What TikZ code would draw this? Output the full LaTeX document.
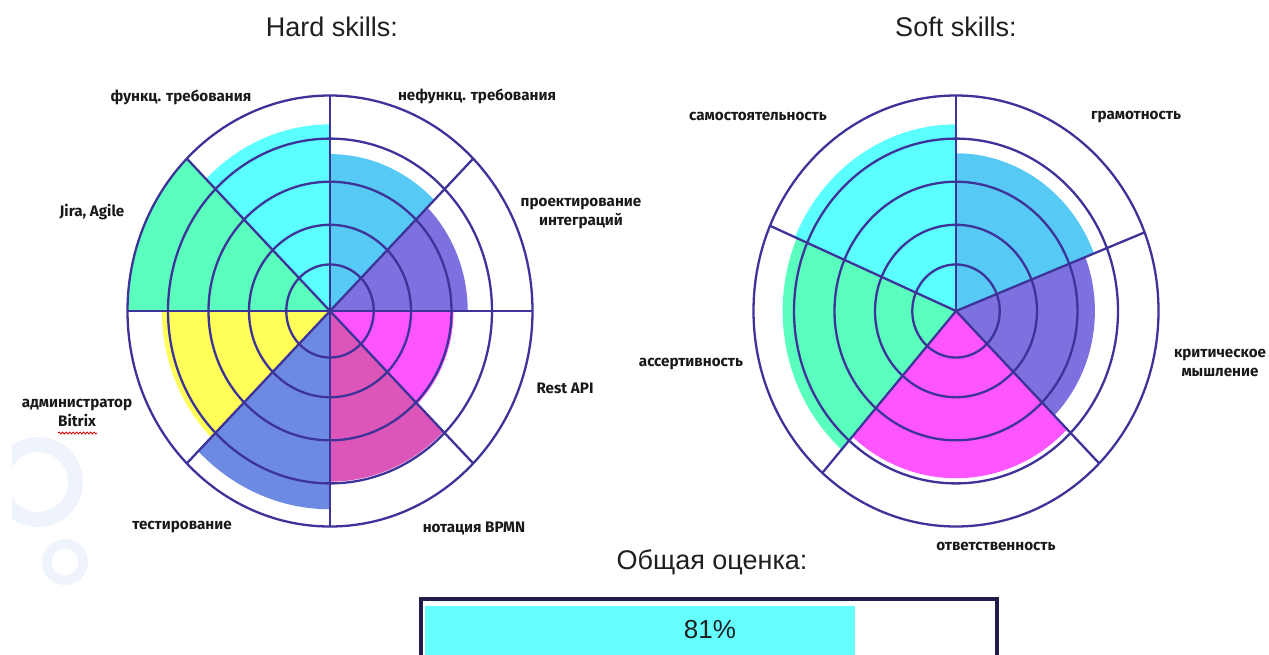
\documentclass[tikz,border=0pt]{standalone}
\usepackage{fontspec}
\setmainfont{Fira Sans}
\newfontfamily\headfont{Liberation Sans}
\usetikzlibrary{decorations.pathmorphing}

\definecolor{gridline}{HTML}{3D3399}
\definecolor{skillAqua}{HTML}{5BFFFF}
\definecolor{skillSky}{HTML}{56C9F4}
\definecolor{skillViolet}{HTML}{7D70DF}
\definecolor{skillPink}{HTML}{FF55FF}
\definecolor{skillOrchid}{HTML}{DC56B9}
\definecolor{skillBlue}{HTML}{6C8AE2}
\definecolor{skillLemon}{HTML}{FFFF57}
\definecolor{skillMint}{HTML}{5BFFBD}
\definecolor{decor}{HTML}{EEF3FC}
\definecolor{barframe}{HTML}{211D4B}
\definecolor{barfill}{HTML}{66FFFF}

\begin{document}
\begin{tikzpicture}[x=1pt, y=1pt,
    grid/.style={draw=gridline, line width=2.3pt},
    head/.style={font=\headfont\fontsize{27}{30}\selectfont, text=black!88, inner sep=0pt},
    lbl/.style={font=\bfseries\fontsize{15.2}{19}\selectfont, align=center, text=black!90, inner sep=0pt}]
    \useasboundingbox (0,0) rectangle (1269,-654);

    \begin{scope}
        \clip (12,0) rectangle (1269,-654);
        \fill[decor, even odd rule] (38,-482) circle[radius=45] circle[radius=30];
    \end{scope}
    \fill[decor, even odd rule] (65,-562) circle[radius=23] circle[radius=13.5];

    \node[head] (hard) at (332,-27) {Hard skills:};
    \node[head] (soft) at (956,-27) {Soft skills:};

    \begin{scope}[shift={(330,-311)}, x=40.5pt, y=43.1pt]
        \foreach \a/\b/\r/\c in {45/90/3.64/skillSky, 0/45/3.4/skillViolet, -45/0/3.05/skillPink, -90/-45/3.96/skillOrchid,
                                 -135/-90/4.6/skillBlue, -180/-135/4.15/skillLemon, 135/180/5/skillMint, 90/135/4.33/skillAqua} {
            \fill[\c] (0,0) -- (\a:\r) arc[start angle=\a, end angle=\b, radius=\r] -- cycle;
        }
        \foreach \r in {1.08,2,3,4,5} {
            \draw[grid] (0,0) circle[radius=\r];
        }
        \foreach \a in {0,45,...,315} {
            \draw[grid] (0,0) -- (\a:5);
        }
    \end{scope}

    \begin{scope}[shift={(956,-311)}, x=40.5pt, y=43.1pt]
        \foreach \a/\b/\r/\c in {21.4/90/3.66/skillSky, -45/21.4/3.43/skillViolet, -131.3/-45/3.88/skillPink,
                                 -203.3/-131.3/4.28/skillMint, 90/156.7/4.33/skillAqua} {
            \fill[\c] (0,0) -- (\a:\r) arc[start angle=\a, end angle=\b, radius=\r] -- cycle;
        }
        \foreach \r in {1.08,2,3,4,5} {
            \draw[grid] (0,0) circle[radius=\r];
        }
        \foreach \a in {90,21.4,-45,-131.3,156.7} {
            \draw[grid] (0,0) -- (\a:5);
        }
    \end{scope}

    \node[lbl] (funk) at (181,-97) {функц. требования};
    \node[lbl] (nefunk) at (477,-96) {нефункц. требования};
    \node[lbl] (proekt) at (581,-214) {проектирование\\интеграций};
    \node[lbl] (jira) at (92,-212) {Jira, Agile};
    \node[lbl] (rest) at (565,-388) {Rest API};
    \node[lbl] (admin) at (77,-413) {администратор\\Bitrix};
    \node[lbl] (test) at (182,-527) {тестирование};
    \node[lbl] (bpmn) at (474,-528) {нотация BPMN};
    \draw[red!85!black, line width=0.8pt, decorate, decoration={snake, amplitude=1pt, segment length=3.5pt}]
        (58,-433) -- (97,-433);

    \node[lbl] (samost) at (758,-116) {самостоятельность};
    \node[lbl] (gramot) at (1136,-117) {грамотность};
    \node[lbl] (krit) at (1220,-363) {критическое\\мышление};
    \node[lbl] (assert) at (691,-364) {ассертивность};
    \node[lbl] (otvet) at (996,-546) {ответственность};

    \node[head] (total) at (712,-562) {Общая оценка:};
    \begin{scope}
        \clip (0,0) rectangle (1269,-654);
        \fill[barfill] (425,-606) rectangle (855,-670);
        \draw[barframe, line width=4pt] (421,-599) rectangle (997,-680);
    \end{scope}
    \node[head, font=\headfont\fontsize{26}{28}\selectfont] (score) at (710,-630) {81\%};
\end{tikzpicture}
\end{document}
